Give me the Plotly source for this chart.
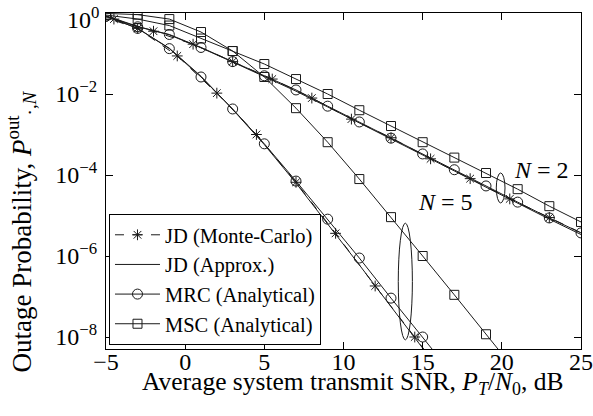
import plotly.graph_objects as go

# ---------------- data ----------------
snr_odd = [-5, -3, -1, 1, 3, 5, 7, 9, 11, 13, 15, 17, 19, 21, 23, 25]

msc_n2 = [0.891, 0.708, 0.490, 0.234, 0.115, 0.0550, 0.0234, 0.0100, 3.98e-3, 1.62e-3,
          6.46e-4, 2.69e-4, 1.12e-4, 4.47e-5, 1.70e-5, 6.92e-6]
msc_n5 = [0.977, 0.912, 0.708, 0.339, 0.115, 0.0263, 4.47e-3, 6.46e-4, 7.94e-5, 9.12e-6,
          1.0e-6, 1.10e-7, 1.17e-8, 1.26e-9]

mrc_n2 = [0.832, 0.457, 0.295, 0.141, 0.0631, 0.0282, 0.0126, 5.01e-3, 2.04e-3, 8.13e-4,
          3.31e-4, 1.35e-4, 5.37e-5, 2.14e-5, 8.71e-6, 3.72e-6]
mrc_n5 = [0.832, 0.417, 0.132, 0.0263, 4.27e-3, 5.89e-4, 7.08e-5, 8.13e-6, 8.91e-7, 9.12e-8,
          1.0e-8, 1.05e-9]

jd_apx_n2 = [0.851, 0.468, 0.288, 0.138, 0.0617, 0.0269, 0.01175, 4.79e-3, 1.95e-3, 7.76e-4,
             3.16e-4, 1.26e-4, 5.01e-5, 2.0e-5, 8.13e-6, 3.39e-6]
jd_apx_n5 = [0.832, 0.417, 0.135, 0.0275, 4.17e-3, 5.62e-4, 6.31e-5, 6.31e-6, 6.03e-7, 5.62e-8,
             5.25e-9, 5.01e-10]

snr_mc_n2 = [-4.5, -2, 0.5, 3, 5.5, 8, 10.5, 13, 15.5, 18, 20.5, 23, 25.5]
jd_mc_n2 = [0.708, 0.355, 0.170, 0.0631, 0.0234, 7.94e-3, 2.40e-3, 8.32e-4, 2.51e-4, 8.13e-5,
            2.57e-5, 8.91e-6, 3.02e-6]
snr_mc_n5 = [-5.5, -3, -0.5, 2, 4.5, 7, 9.5, 12, 14.5, 17]
jd_mc_n5 = [0.891, 0.417, 0.0871, 0.0105, 1.0e-3, 6.61e-5, 3.63e-6, 1.82e-7, 1.0e-8, 5.01e-10]

x_ticks = [-5, 0, 5, 10, 15, 20, 25]
y_tick_vals = [1, 1e-2, 1e-4, 1e-6, 1e-8]
# the top label (10^0) is drawn as an annotation slightly lowered, like the reference
y_tick_text = ["", "10<sup>−2</sup>", "10<sup>−4</sup>", "10<sup>−6</sup>", "10<sup>−8</sup>"]
y_top_label = "10<sup>0</sup>"

legend_names = ["JD (Monte-Carlo)", "JD (Approx.)", "MRC (Analytical)", "MSC (Analytical)"]

# ---------------- styling ----------------
FONT = "Liberation Serif"
LC = "#1a1a1a"
LW = 1

fig = go.Figure()

def add(x, y, name, show, mode, symbol=None, size=9, dash="solid"):
    marker = dict(symbol=symbol, size=size, color=LC, line=dict(color=LC, width=1)) if symbol else None
    fig.add_trace(go.Scatter(
        x=x, y=y, name=name, legendgroup=name, showlegend=show, mode=mode,
        line=dict(color=LC, width=LW, dash=dash), marker=marker))

# MC
add(snr_mc_n2, jd_mc_n2, legend_names[0], True, "lines+markers", "asterisk-open", 9, "dash")
add(snr_mc_n5, jd_mc_n5, legend_names[0], False, "lines+markers", "asterisk-open", 9, "dash")
# Approx
add(snr_odd, jd_apx_n2, legend_names[1], True, "lines")
add(snr_odd[:len(jd_apx_n5)], jd_apx_n5, legend_names[1], False, "lines")
# MRC
add(snr_odd, mrc_n2, legend_names[2], True, "lines+markers", "circle-open", 10)
add(snr_odd[:len(mrc_n5)], mrc_n5, legend_names[2], False, "lines+markers", "circle-open", 10)
# MSC
add(snr_odd, msc_n2, legend_names[3], True, "lines+markers", "square-open", 9)
add(snr_odd[:len(msc_n5)], msc_n5, legend_names[3], False, "lines+markers", "square-open", 9)

# ellipses grouping curves
fig.add_shape(type="circle", xref="x", yref="y", x0=19.65, x1=20.2, y0=10**-4.69, y1=10**-3.95,
              line=dict(color=LC, width=1))
fig.add_shape(type="circle", xref="x", yref="y", x0=13.46, x1=14.35, y0=10**-8.07, y1=10**-5.19,
              line=dict(color=LC, width=1))

fig.add_annotation(x=22.5, y=-3.88, xref="x", yref="y", text="<i>N</i> = 2", showarrow=False,
                   font=dict(family=FONT, size=24, color="black"))
fig.add_annotation(x=16.45, y=-4.67, xref="x", yref="y", text="<i>N</i> = 5", showarrow=False,
                   font=dict(family=FONT, size=24, color="black"))

# top y tick label
fig.add_annotation(x=-0.0105, y=0, xref="paper", yref="y", text=y_top_label, showarrow=False,
                   xanchor="right", yanchor="middle", yshift=-5,
                   font=dict(family=FONT, size=24, color="black"))

# axis titles as annotations
fig.add_annotation(x=0.518, y=-0.1, xref="paper", yref="paper",
                   text="Average system transmit SNR, <i>P<sub>T</sub></i>/<i>N</i><sub>0</sub>, dB",
                   showarrow=False, xanchor="center", yanchor="middle",
                   font=dict(family=FONT, size=25.5, color="black"))
fig.add_annotation(x=-0.178, y=0.351, xref="paper", yref="paper",
                   text="Outage Probability, <i>P</i><sup>out</sup><sub>·,<i>N</i></sub>",
                   showarrow=False, textangle=-90, xanchor="center", yanchor="middle",
                   font=dict(family=FONT, size=27, color="black"))

axis_common = dict(showline=True, linecolor="black", linewidth=1, mirror="ticks",
                   ticks="inside", ticklen=7, tickcolor="black", showgrid=False, zeroline=False,
                   automargin=False, ticklabeloverflow="allow",
                   tickfont=dict(family=FONT, size=24, color="black"))

fig.update_xaxes(range=[-5, 25], tickvals=x_ticks, ticktext=[str(v).replace("-", "−") for v in x_ticks],
                 ticklabelstandoff=-9, **axis_common)
fig.update_yaxes(type="log", range=[-8.296, 0], tickvals=y_tick_vals, ticktext=y_tick_text,
                 ticklabelstandoff=3, **axis_common)

fig.update_layout(
    width=593, height=416,
    margin=dict(l=106, r=12, t=13, b=67),
    paper_bgcolor="white", plot_bgcolor="white",
    font=dict(family=FONT, color="black"),
    legend=dict(x=0.0063, y=0.012, xanchor="left", yanchor="bottom",
                bgcolor="white", bordercolor="black", borderwidth=1,
                font=dict(family=FONT, size=20.5, color="black"),
                itemwidth=45, tracegroupgap=0),
)

fig.write_html("out.html")
